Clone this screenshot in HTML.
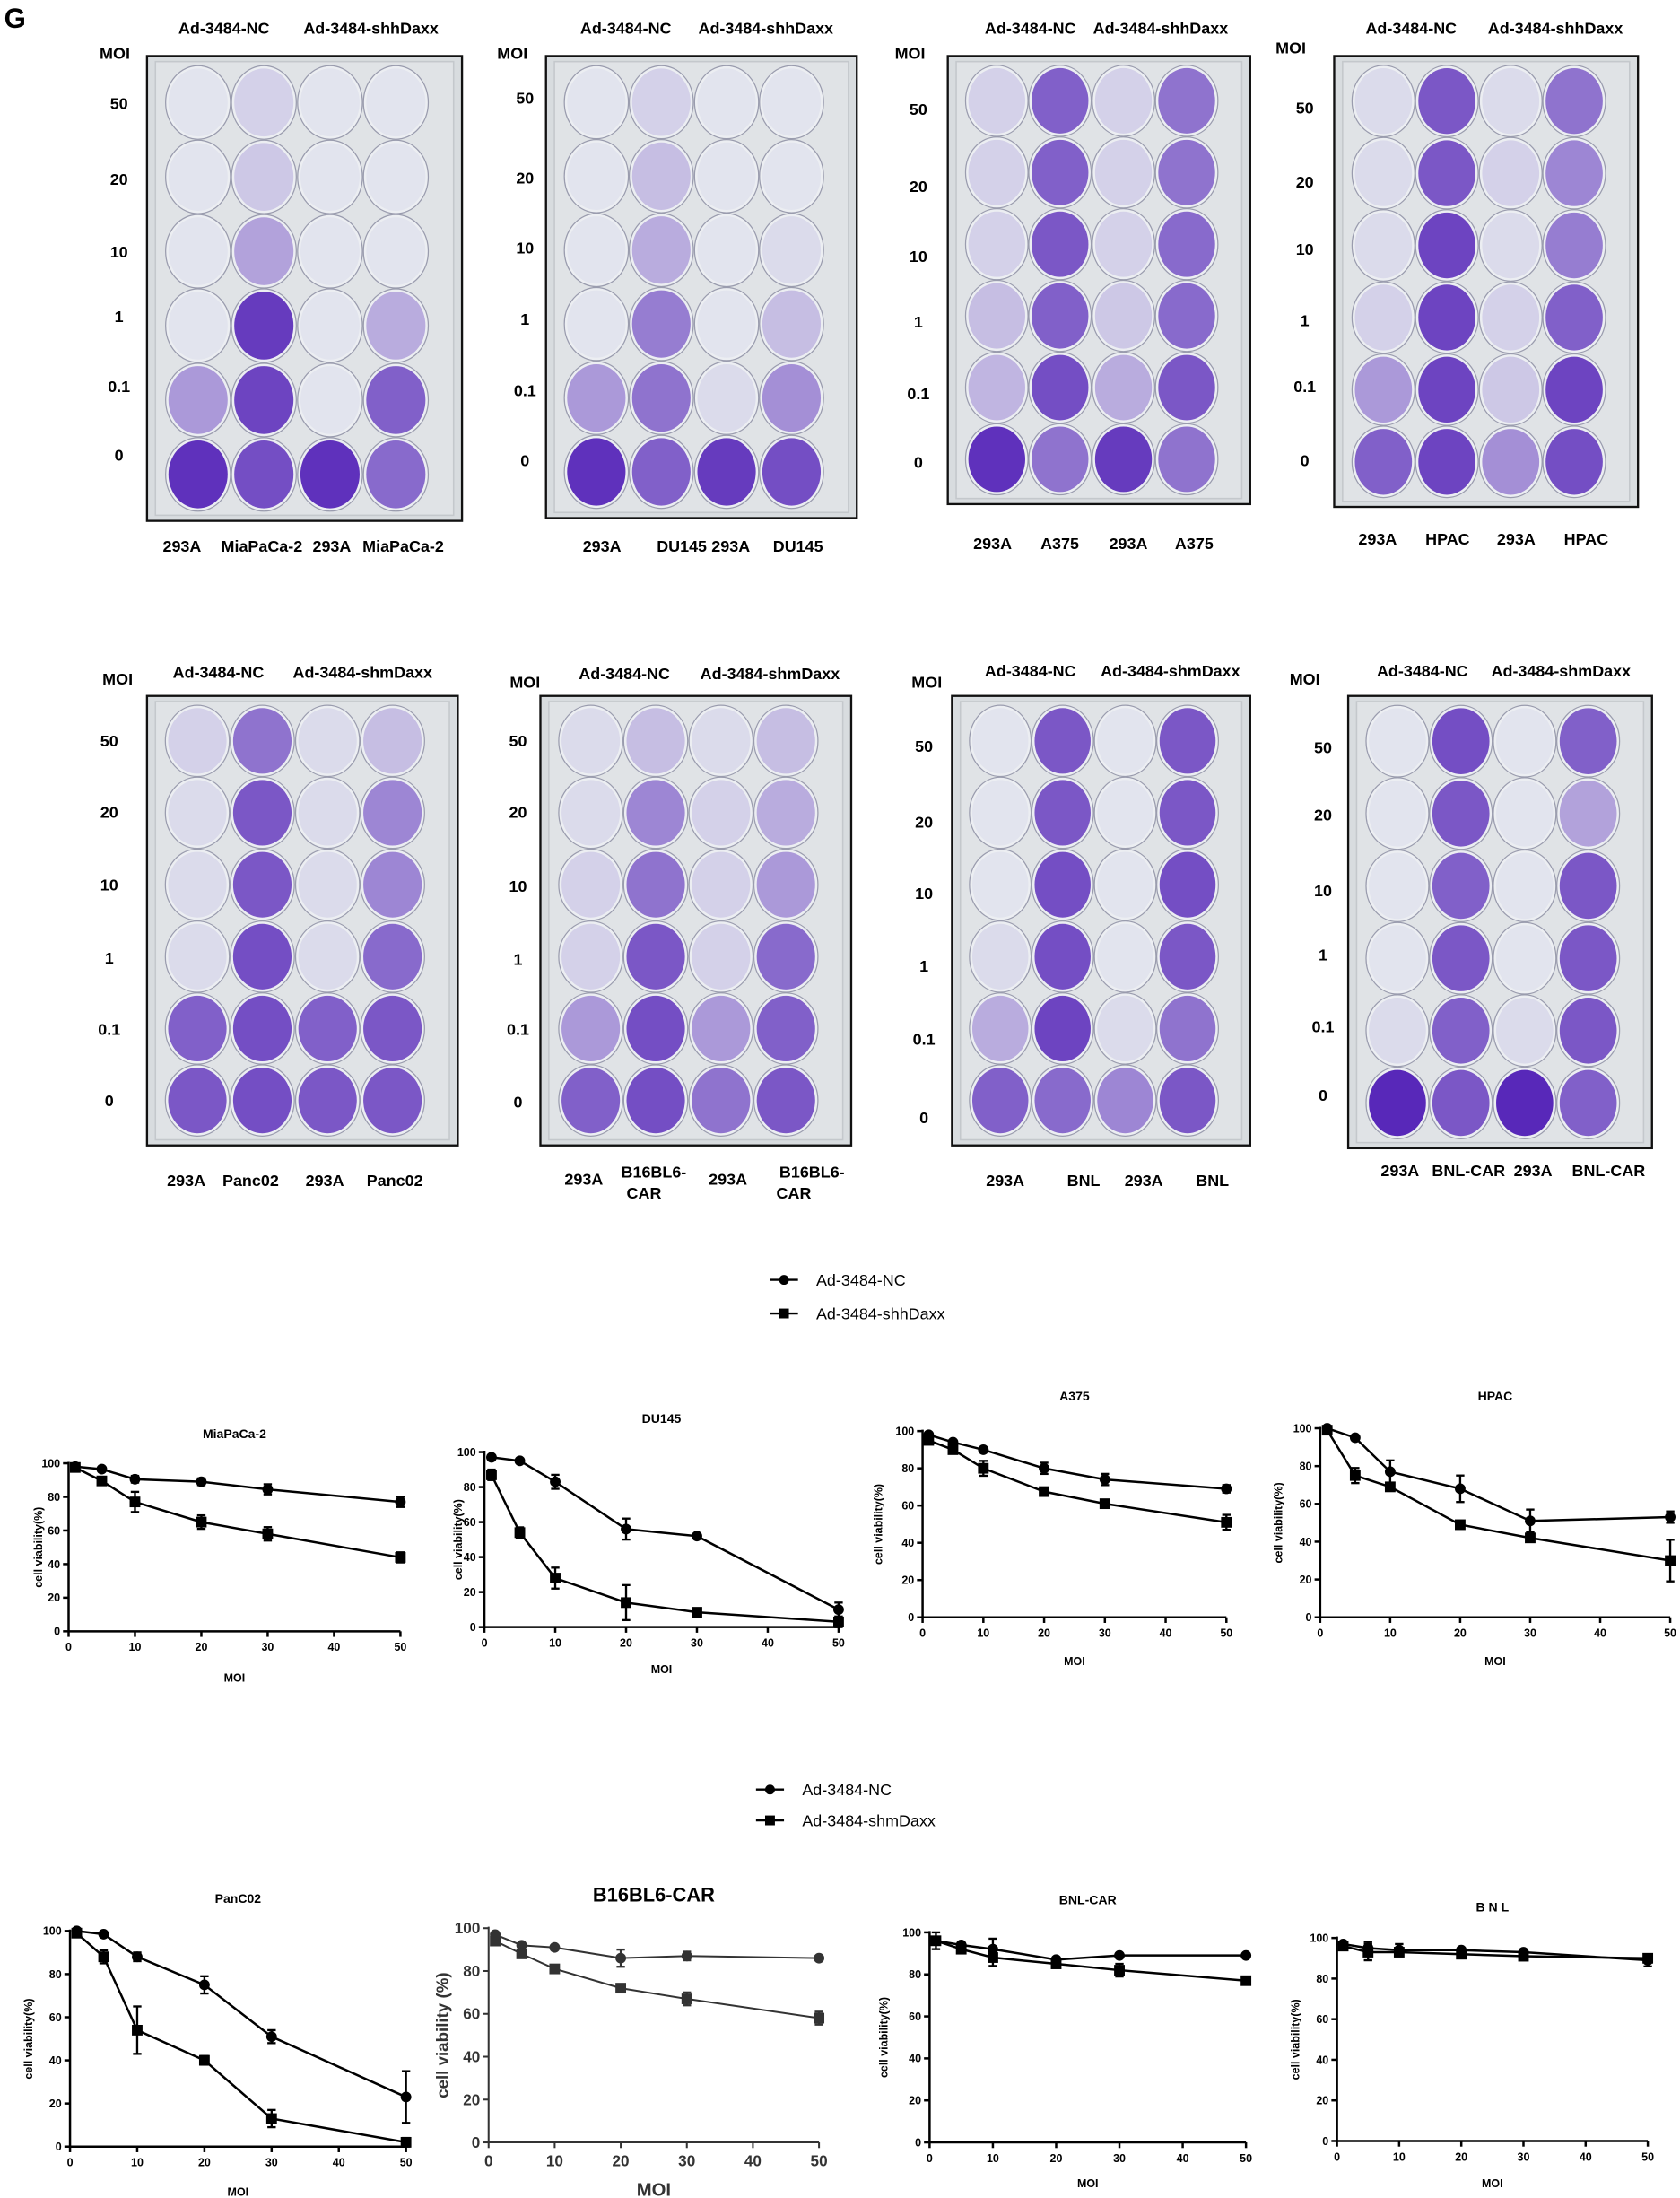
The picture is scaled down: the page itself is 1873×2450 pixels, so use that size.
<!DOCTYPE html>
<html><head><meta charset="utf-8">
<style>
html,body{margin:0;padding:0;background:#fff;}
svg{display:block;}
text{font-family:"Liberation Sans",Arial,sans-serif;font-weight:bold;fill:#000;}
</style></head>
<body>
<svg id="s" xmlns="http://www.w3.org/2000/svg" width="1873" height="2450" viewBox="0 0 1200 1569.7">
<rect width="1200" height="1570" fill="#fff"/>
<text x="3" y="20" font-size="20">G</text>
<g id="g"></g>
</svg>
<script>
var G=document.getElementById('g');var h='';
function T(x,y,s,fs,anc,extra){h+='<text x="'+x+'" y="'+y+'" font-size="'+(fs||11)+'" text-anchor="'+(anc||'middle')+'" '+(extra||'')+'>'+s+'</text>';}
function col(v){var a=[226,228,238],b=[88,40,185];var c=a.map(function(p,i){return Math.round(p+(b[i]-p)*v)});return 'rgb('+c.join(',')+')';}
var fx=[0.162,0.371,0.581,0.790],fy=[0.10,0.26,0.42,0.58,0.74,0.90];
function plate(x1,y1,x2,y2,m){var w=x2-x1,ht=y2-y1;
h+='<rect x="'+x1+'" y="'+y1+'" width="'+w+'" height="'+ht+'" fill="#d8dcdf" stroke="#111" stroke-width="1.5"/>';
h+='<rect x="'+(x1+6)+'" y="'+(y1+4)+'" width="'+(w-12)+'" height="'+(ht-8)+'" fill="#e0e3e6" stroke="#c4c8cc" stroke-width="1"/>';
var rx=w*0.094,ry=ht*0.073;
for(var r=0;r<6;r++)for(var c=0;c<4;c++){var cx=x1+w*fx[c],cy=y1+ht*fy[r];
h+='<ellipse cx="'+cx+'" cy="'+cy+'" rx="'+(rx+2)+'" ry="'+(ry+2)+'" fill="#eceef2" stroke="#9a9cae" stroke-width="0.8"/>';
h+='<ellipse cx="'+cx+'" cy="'+cy+'" rx="'+rx+'" ry="'+ry+'" fill="'+col(m[r][c])+'"/>';}}
plate(105,40,330,372,[[0,.1,0,0],[0,.15,0,0],[0,.35,0,0],[0,.9,0,.3],[.4,.85,0,.7],[.95,.8,.95,.65]]);
plate(390,40,612,370,[[0,.1,0,0],[0,.2,0,0],[0,.3,0,.05],[0,.55,0,.2],[.4,.6,.05,.45],[.95,.7,.9,.8]]);
plate(677,40,893,360,[[.1,.7,.1,.6],[.1,.7,.1,.6],[.1,.75,.1,.65],[.2,.7,.15,.65],[.25,.8,.3,.75],[.95,.6,.9,.6]]);
plate(953,40,1170,362,[[.05,.75,.05,.6],[.05,.75,.1,.5],[.05,.85,.05,.55],[.1,.85,.1,.7],[.4,.85,.15,.85],[.7,.85,.45,.8]]);
plate(105,497,327,818,[[.1,.6,.05,.2],[.05,.75,.05,.5],[.05,.75,.05,.5],[.05,.8,.05,.65],[.7,.8,.7,.75],[.75,.8,.75,.75]]);
plate(386,497,608,818,[[.05,.2,.05,.2],[.05,.5,.1,.3],[.1,.6,.1,.4],[.1,.75,.1,.65],[.4,.8,.4,.7],[.7,.8,.6,.75]]);
plate(680,497,893,818,[[0,.75,0,.75],[0,.75,0,.75],[0,.8,0,.8],[.05,.8,0,.75],[.3,.85,.05,.6],[.7,.65,.5,.75]]);
plate(963,497,1180,820,[[0,.8,0,.7],[0,.75,0,.35],[0,.7,0,.75],[0,.75,0,.75],[.05,.7,.05,.75],[1,.75,1,.7]]);
var moi=['50','20','10','1','0.1','0'];
function labs(hx,hy,h1,h2,mx,my,vx,vys){T(hx[0],hy,'Ad-3484-NC',11.5);T(hx[1],hy,h2,11.5);T(mx,my,'MOI',11.5);for(var i=0;i<6;i++)T(vx,vys[i],moi[i],11.5);}
labs([160,265],24,'','Ad-3484-shhDaxx',82,42,85,[78,132,184,230,280,329]);
labs([447,547],24,'','Ad-3484-shhDaxx',366,42,375,[74,131,181,232,283,333]);
labs([736,829],24,'','Ad-3484-shhDaxx',650,42,656,[82,137,187,234,285,334]);
labs([1008,1111],24,'','Ad-3484-shhDaxx',922,38,932,[81,134,182,233,280,333]);
labs([156,259],484,'','Ad-3484-shmDaxx',84,489,78,[533,584,636,688,739,790]);
labs([446,550],485,'','Ad-3484-shmDaxx',375,491,370,[533,584,637,689,739,791]);
labs([736,836],483,'','Ad-3484-shmDaxx',662,491,660,[537,591,642,694,746,802]);
labs([1016,1115],483,'','Ad-3484-shmDaxx',932,489,945,[538,586,640,686,737,786]);
function bl(xs,y,ss){for(var i=0;i<4;i++)T(xs[i],y,ss[i],11.5);}
bl([130,187,237,288],394,['293A','MiaPaCa-2','293A','MiaPaCa-2']);
bl([430,487,522,570],394,['293A','DU145','293A','DU145']);
bl([709,757,806,853],392,['293A','A375','293A','A375']);
bl([984,1034,1083,1133],389,['293A','HPAC','293A','HPAC']);
bl([133,179,232,282],847,['293A','Panc02','293A','Panc02']);
T(417,846,'293A',11.5);T(467,841,'B16BL6-',11.5);T(460,856,'CAR',11.5,'middle');T(520,846,'293A',11.5);T(580,841,'B16BL6-',11.5);T(567,856,'CAR',11.5);
bl([718,774,817,866],847,['293A','BNL','293A','BNL']);
bl([1000,1049,1095,1149],840,['293A','BNL-CAR','293A','BNL-CAR']);
function legend(x,y1,y2,t2){h+='<line x1="'+x+'" y1="'+y1+'" x2="'+(x+20)+'" y2="'+y1+'" stroke="#000" stroke-width="1.5"/><circle cx="'+(x+10)+'" cy="'+y1+'" r="3.5"/>';
h+='<line x1="'+x+'" y1="'+y2+'" x2="'+(x+20)+'" y2="'+y2+'" stroke="#000" stroke-width="1.5"/><rect x="'+(x+6.5)+'" y="'+(y2-3.5)+'" width="7" height="7"/>';
h+='<text x="'+(x+33)+'" y="'+(y1+4)+'" font-size="11.5" style="font-weight:normal">Ad-3484-NC</text><text x="'+(x+33)+'" y="'+(y2+4)+'" font-size="11.5" style="font-weight:normal">'+t2+'</text>';}
legend(550,914,938,'Ad-3484-shhDaxx');legend(540,1278,1300,'Ad-3484-shmDaxx');
function chart(o){var x0=o.x0,x1=o.x1,yt=o.yt,yb=o.yb,fs=o.fs||8,c=o.col||'#000',lw=o.lw||1.6;
function X(v){return x0+(x1-x0)*v/50}function Y(v){return yb-(yb-yt)*v/100}
T((x0+x1)/2+(o.tdx||0),o.ty,o.title,o.tfs||9);
h+='<g stroke="'+c+'" stroke-width="'+lw+'" fill="none"><line x1="'+x0+'" y1="'+(yt-1)+'" x2="'+x0+'" y2="'+yb+'"/><line x1="'+x0+'" y1="'+yb+'" x2="'+x1+'" y2="'+yb+'"/>';
for(var v=0;v<=100;v+=20)h+='<line x1="'+(x0-4)+'" y1="'+Y(v)+'" x2="'+x0+'" y2="'+Y(v)+'"/>';
for(var v=0;v<=50;v+=10)h+='<line x1="'+X(v)+'" y1="'+yb+'" x2="'+X(v)+'" y2="'+(yb+4)+'"/>';
h+='</g>';
for(var v=0;v<=100;v+=20)T(x0-6,Y(v)+fs*0.35,v,fs,'end','style="fill:'+c+'"');
for(var v=0;v<=50;v+=10)T(X(v),yb+6+fs,v,fs,'middle','style="fill:'+c+'"');
T((x0+x1)/2,o.my,'MOI',o.mfs||fs,'middle','style="fill:'+c+'"');
var yl=o.ylx,ym=(yt+yb)/2;T(yl,ym,o.ylab||'cell viability(%)',o.yfs||fs,'middle','transform="rotate(-90 '+yl+' '+ym+')" style="fill:'+c+'"');
[o.nc,o.sh].forEach(function(d,k){var p=d.map(function(q){return X(q[0])+','+Y(q[1])}).join(' ');
h+='<polyline points="'+p+'" fill="none" stroke="'+c+'" stroke-width="'+lw+'"/>';
d.forEach(function(q){var px=X(q[0]),py=Y(q[1]);if(q[2]){var e1=Y(q[1]+q[2]),e2=Y(q[1]-q[2]);h+='<g stroke="'+c+'" stroke-width="1.5"><line x1="'+px+'" y1="'+e1+'" x2="'+px+'" y2="'+e2+'"/><line x1="'+(px-3)+'" y1="'+e1+'" x2="'+(px+3)+'" y2="'+e1+'"/><line x1="'+(px-3)+'" y1="'+e2+'" x2="'+(px+3)+'" y2="'+e2+'"/></g>';}
if(k==0)h+='<circle cx="'+px+'" cy="'+py+'" r="3.8" fill="'+c+'"/>';else h+='<rect x="'+(px-3.8)+'" y="'+(py-3.8)+'" width="7.6" height="7.6" fill="'+c+'"/>';});});}
chart({x0:49,x1:286,yt:1045,yb:1165,title:'MiaPaCa-2',ty:1027,my:1201,ylx:30,
nc:[[1,98],[5,96.5],[10,90.5,2],[20,89,2],[30,84.5,3],[50,77,3]],sh:[[1,97.5],[5,89.5],[10,77,6],[20,65,4],[30,58,4],[50,44,3]]});
chart({x0:346,x1:599,yt:1037,yb:1162,title:'DU145',ty:1016,my:1195,ylx:330,
nc:[[1,97],[5,95],[10,83,4],[20,56,6],[30,52],[50,10,4]],sh:[[1,87,3],[5,54,3],[10,28,6],[20,14,10],[30,8.5],[50,3,3]]});
chart({x0:659,x1:876,yt:1022,yb:1155,title:'A375',ty:1000,my:1189,ylx:630,
nc:[[1,98],[5,94],[10,90],[20,80,3],[30,74,3],[50,69,2]],sh:[[1,95],[5,90],[10,80,4],[20,67.5],[30,61,2],[50,51,4]]});
chart({x0:943,x1:1193,yt:1020,yb:1155,title:'HPAC',ty:1000,tdx:0,my:1189,ylx:916,
nc:[[1,100],[5,95],[10,77,6],[20,68,7],[30,51,6],[50,53,3]],sh:[[1,99],[5,75,4],[10,69,2],[20,49,2],[30,42,2],[50,30,11]]});
chart({x0:50,x1:290,yt:1379,yb:1533,title:'PanC02',ty:1359,my:1568,ylx:23,
nc:[[1,100],[5,98.5],[10,88,2],[20,75,4],[30,51,3],[50,23,12]],sh:[[1,99],[5,88,3],[10,54,11],[20,40,2],[30,13,4],[50,2,2]]});
chart({x0:349,x1:585,yt:1377,yb:1530,title:'B16BL6-CAR',ty:1358,tfs:14,my:1568,mfs:13,fs:11,ylx:320,yfs:12,ylab:'cell viability (%)',col:'#333',lw:1.3,
nc:[[1,97],[5,92],[10,91],[20,86,4],[30,87,2],[50,86]],sh:[[1,94],[5,88],[10,81],[20,72],[30,67,3],[50,58,3]]});
chart({x0:664,x1:890,yt:1380,yb:1530,title:'BNL-CAR',ty:1360,my:1562,ylx:634,
nc:[[1,96],[5,94],[10,92,5],[20,87],[30,89],[50,89]],sh:[[1,96,4],[5,92],[10,88,4],[20,85],[30,82,3],[50,77]]});
chart({x0:955,x1:1177,yt:1384,yb:1529,title:'B N L',ty:1365,my:1562,ylx:928,
nc:[[1,97],[5,95,3],[10,94,3],[20,94],[30,93],[50,89,3]],sh:[[1,96],[5,93,4],[10,93],[20,92],[30,91],[50,90]]});
G.innerHTML=h;
</script>
</body></html>
